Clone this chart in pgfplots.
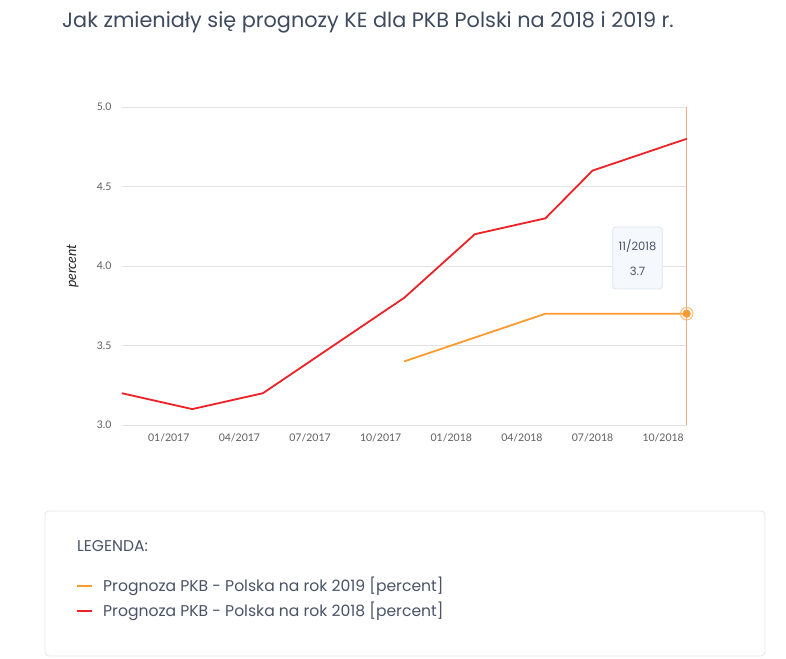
\documentclass[border=0pt]{standalone}
\usepackage{pgfplots}
\pgfplotsset{compat=1.18}
\usepackage{fontspec}
\setmainfont{Poppins}
\newfontfamily\latofont{Lato}
\definecolor{titlec}{HTML}{3E4A5E}
\definecolor{textc}{HTML}{4A5366}
\definecolor{tickc}{HTML}{5E5E5E}
\definecolor{gridc}{HTML}{E3E3E3}
\definecolor{redl}{HTML}{EC2227}
\definecolor{orgl}{HTML}{FF9A2E}
\definecolor{vline}{HTML}{F2A88E}
\definecolor{tipfill}{HTML}{F5F8FD}
\definecolor{tipdraw}{HTML}{DCE5F0}
\definecolor{boxdraw}{HTML}{E6E6E6}
\begin{document}
\begin{tikzpicture}[x=1pt,y=1pt]
\path[use as bounding box, fill=white] (0,0) rectangle (786,658);
\node[anchor=base west, inner sep=0pt, text=titlec, font=\fontsize{20.8}{24}\selectfont] at (62,630) {Jak zmieniały się prognozy KE dla PKB Polski na 2018 i 2019 r.};
\begin{axis}[
  at={(121.7pt,233pt)}, anchor=south west,
  scale only axis, width=565pt, height=318pt,
  xmin=0, xmax=24, ymin=3, ymax=5,
  axis line style={draw=none},
  major tick length=0pt,
  xtick={2,5,8,11,14,17,20,23},
  xticklabels={01/2017,04/2017,07/2017,10/2017,01/2018,04/2018,07/2018,10/2018},
  ytick={3,3.5,4,4.5,5},
  yticklabels={3.0,3.5,4.0,4.5,5.0},
  ymajorgrids, grid style={gridc, line width=0.9pt},
  xticklabel style={font=\latofont\fontsize{10.5}{12}\selectfont, text=tickc, anchor=north, inner sep=0pt, yshift=-9pt},
  yticklabel style={font=\latofont\fontsize{10.5}{12}\selectfont, text=tickc, anchor=east, inner sep=0pt, xshift=-10pt},
  ylabel={percent},
  ylabel style={font=\latofont\itshape\fontsize{14}{16}\selectfont, text=black!85, at={(axis description cs:-0.0867,0.5)}, anchor=center},
  clip=false,
]
\addplot[vline, line width=0.9pt] coordinates {(24,3) (24,5)};
\addplot[redl, line width=1.8pt] coordinates {
 (0,3.2) (3,3.1) (6,3.2) (12,3.8) (15,4.2) (18,4.3) (20,4.6) (24,4.8)};
\addplot[orgl, line width=1.8pt] coordinates {
 (12,3.4) (18,3.7) (20,3.7) (24,3.7)};
\addplot[only marks, mark=o, mark size=6.3pt, mark options={draw=orgl!65, line width=1pt}] coordinates {(24,3.7)};
\addplot[only marks, mark=*, mark size=3.8pt, mark options={draw=orgl, fill=orgl}] coordinates {(24,3.7)};
\end{axis}
% tooltip
\draw[tipdraw, fill=tipfill, rounded corners=3pt, line width=0.8pt] (612.7,369) rectangle (662.3,431);
\node[text=textc, font=\fontsize{11.5}{13}\selectfont, inner sep=0pt] at (637.5,412) {11/2018};
\node[text=textc, font=\fontsize{11.5}{13}\selectfont, inner sep=0pt] at (637.5,387) {3.7};
% legend box
\draw[boxdraw, fill=white, rounded corners=4pt, line width=0.8pt] (45,2) rectangle (765,147);
\node[anchor=west, inner sep=0pt, text=textc, font=\fontsize{15.6}{18}\selectfont] at (77,112) {LEGENDA:};
\draw[orgl, line width=2.8pt] (77,72) -- (92,72);
\node[anchor=west, inner sep=0pt, text=textc, font=\fontsize{15.6}{18}\selectfont] at (103,72) {Prognoza PKB - Polska na rok 2019 [percent]};
\draw[redl, line width=2.8pt] (77,47) -- (92,47);
\node[anchor=west, inner sep=0pt, text=textc, font=\fontsize{15.6}{18}\selectfont] at (103,47) {Prognoza PKB - Polska na rok 2018 [percent]};
\end{tikzpicture}
\end{document}
